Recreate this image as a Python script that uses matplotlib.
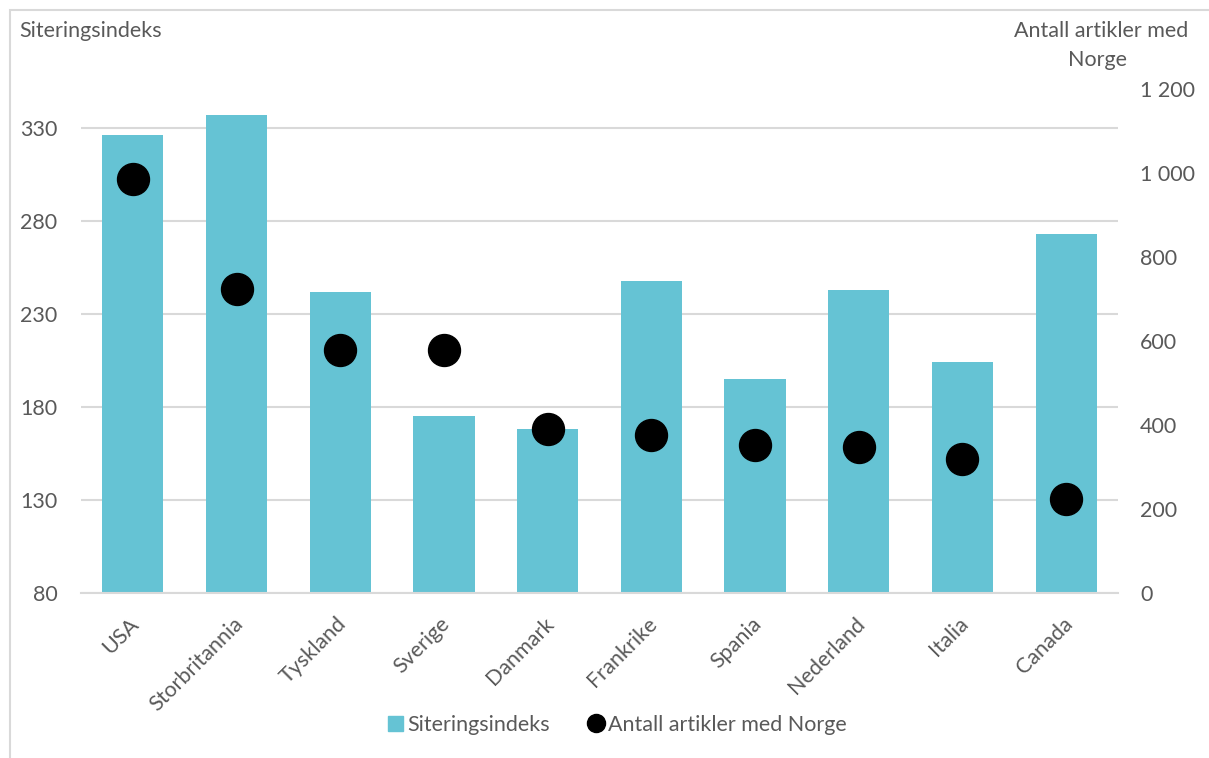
import matplotlib
matplotlib.use("Agg")
import matplotlib.pyplot as plt
from matplotlib.patches import Rectangle
from matplotlib.lines import Line2D
from matplotlib.transforms import ScaledTranslation

categories = ["USA", "Storbritannia", "Tyskland", "Sverige", "Danmark",
              "Frankrike", "Spania", "Nederland", "Italia", "Canada"]
siteringsindeks = [326, 337, 242, 175, 168, 248, 195, 243, 204, 273]
antall_artikler = [985, 724, 579, 579, 390, 376, 352, 347, 319, 224]
left_ticks = [80, 130, 180, 230, 280, 330]
right_ticks = [0, 200, 400, 600, 800, 1000, 1200]
right_tick_labels = ["0", "200", "400", "600", "800", "1 000", "1 200"]

BAR = "#65C3D4"
TXT = "#595959"
GRID = "#D9D9D9"
FONT = "Lato"
FS = 15.5
plt.rcParams["font.family"] = [FONT, "DejaVu Sans"]

W, H = 1209, 758
fig = plt.figure(figsize=(W / 100, H / 100), dpi=100)
fig.patches.append(Rectangle((10 / W, -0.1), 1.2, 1.1 - 10 / H, transform=fig.transFigure,
                             fill=False, edgecolor=GRID, linewidth=1.5))

ax = fig.add_axes([81 / W, 1 - 593 / H, (1118 - 81) / W, (593 - 89) / H])
x = list(range(len(categories)))
ax.bar(x, siteringsindeks, width=0.59, color=BAR, zorder=2)
ax.set_xlim(-0.5, len(categories) - 0.5)
ax.set_ylim(80, 80 + 504 / 1.86)
ax.set_yticks(left_ticks)
ax.yaxis.grid(True, color=GRID, linewidth=1.5, zorder=0)
ax.set_axisbelow(True)
for s in ["top", "right", "left"]:
    ax.spines[s].set_visible(False)
ax.spines["bottom"].set_color(GRID)
ax.spines["bottom"].set_linewidth(1.5)
ax.tick_params(axis="y", length=0, pad=17, labelsize=FS, labelcolor=TXT)
ax.tick_params(axis="x", length=0, pad=15, labelsize=FS, labelcolor=TXT)
ax.set_xticks(x)
ax.set_xticklabels(categories, rotation=45, ha="right", rotation_mode="anchor")
offset = ScaledTranslation(-4 / 100, 0, fig.dpi_scale_trans)
for lab in ax.get_xticklabels():
    lab.set_transform(lab.get_transform() + offset)

ax2 = ax.twinx()
ax2.scatter(x, antall_artikler, s=23 ** 2, color="black", zorder=3)
ax2.set_ylim(0, 1200)
ax2.set_yticks(right_ticks)
ax2.set_yticklabels(right_tick_labels)
for s in ["top", "right", "left", "bottom"]:
    ax2.spines[s].set_visible(False)
ax2.tick_params(axis="y", length=0, pad=16, labelsize=FS, labelcolor=TXT)

fig.text(19 / W, 1 - 31 / H, "Siteringsindeks", fontsize=FS, color=TXT, va="center", ha="left")
fig.text(1188 / W, 1 - 31 / H, "Antall artikler med", fontsize=FS, color=TXT, va="center", ha="right")
fig.text(1098 / W, 1 - 60 / H, "Norge", fontsize=FS, color=TXT, va="center", ha="center")

handles = [Rectangle((0, 0), 1, 1, color=BAR),
           Line2D([], [], marker="o", linestyle="", color="black", markersize=13)]
fig.legend(handles, ["Siteringsindeks", "Antall artikler med Norge"],
           loc="center", bbox_to_anchor=(617 / W, 1 - 725 / H), ncol=2, frameon=False,
           fontsize=FS, labelcolor=TXT, handlelength=0.7, handleheight=0.7,
           handletextpad=0.2, columnspacing=1.8)

fig.savefig("out.png", dpi=100)
